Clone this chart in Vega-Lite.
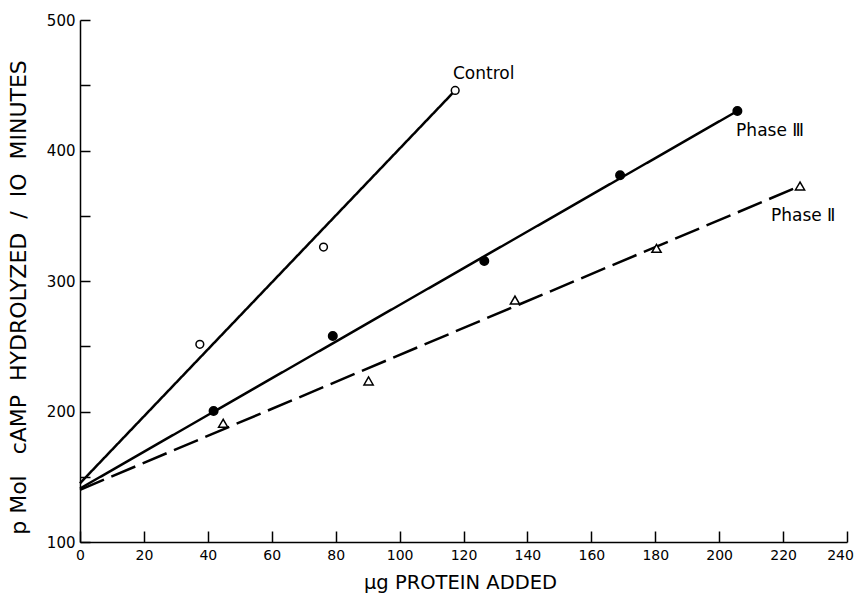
{
  "$schema": "https://vega.github.io/schema/vega-lite/v6.json",
  "autosize": "none",
  "width": 767,
  "height": 522,
  "padding": {"left": 80, "top": 20, "right": 8, "bottom": 51},
  "background": "white",
  "config": {
    "view": {"stroke": null},
    "axis": {
      "domainColor": "black",
      "domainWidth": 1.5,
      "tickColor": "black",
      "tickWidth": 1.5,
      "labelColor": "black",
      "titleColor": "black",
      "labelFont": "DejaVu Sans",
      "titleFont": "DejaVu Sans",
      "titleFontWeight": "normal",
      "grid": false,
      "labelFlush": false,
      "labelOverlap": false
    }
  },
  "datasets": {
    "points": [
      {"series": "Control", "x": 37.5, "y": 251.5},
      {"series": "Control", "x": 76.2, "y": 326},
      {"series": "Control", "x": 117.4, "y": 446},
      {"series": "Phase III", "x": 41.8, "y": 200.4},
      {"series": "Phase III", "x": 79.1, "y": 257.9},
      {"series": "Phase III", "x": 126.5, "y": 315.3},
      {"series": "Phase III", "x": 169, "y": 381},
      {"series": "Phase III", "x": 205.7, "y": 430.3},
      {"series": "Phase II", "x": 44.8, "y": 191},
      {"series": "Phase II", "x": 90.3, "y": 223.4},
      {"series": "Phase II", "x": 136.1, "y": 285.4},
      {"series": "Phase II", "x": 180.4, "y": 325},
      {"series": "Phase II", "x": 225.3, "y": 372.8}
    ],
    "lines": [
      {"series": "Control", "x": 0, "y": 145},
      {"series": "Control", "x": 117.4, "y": 446},
      {"series": "Phase III", "x": 0, "y": 141},
      {"series": "Phase III", "x": 205.7, "y": 430.3},
      {"series": "Phase II", "x": 0, "y": 140},
      {"series": "Phase II", "x": 225.3, "y": 372.8}
    ],
    "labels": [
      {"text": "Control", "x": 116.7, "y": 458.6},
      {"text": "Phase Ⅲ", "x": 205.3, "y": 415},
      {"text": "Phase Ⅱ", "x": 216.2, "y": 349.8}
    ]
  },
  "layer": [
    {
      "data": {"name": "lines"},
      "mark": {"type": "line", "color": "black", "strokeWidth": 2.5},
      "encoding": {
        "x": {
          "field": "x", "type": "quantitative",
          "scale": {"domain": [0, 240], "nice": false, "zero": false},
          "axis": {
            "values": [0, 20, 40, 60, 80, 100, 120, 140, 160, 180, 200, 220, 240],
            "tickSize": -11,
            "labelPadding": 17,
            "labelFontSize": 14,
            "labelOffset": {"condition": {"test": "datum.value === 240", "value": -7}, "value": 0},
            "title": "μg PROTEIN ADDED",
            "titleFontSize": 19.5,
            "titleX": 380,
            "titleY": 40,
            "titleBaseline": "middle",
            "titleAlign": "center"
          }
        },
        "y": {
          "field": "y", "type": "quantitative",
          "scale": {"domain": [100, 500], "nice": false, "zero": false},
          "axis": {
            "values": [100, 150, 200, 250, 300, 350, 400, 450, 500],
            "labelExpr": "datum.value % 100 === 0 ? datum.label : ''",
            "tickSize": -10,
            "labelPadding": 15,
            "labelFontSize": 15,
            "title": "p Mol\u00a0\u00a0\u00a0cAMP\u00a0\u00a0HYDROLYZED\u00a0\u00a0/\u00a0\u00a0IO\u00a0\u00a0MINUTES",
            "titleFontSize": 22,
            "titleAngle": -90,
            "titleX": -62,
            "titleY": 277,
            "titleBaseline": "middle",
            "titleAlign": "center"
          }
        },
        "detail": {"field": "series"},
        "strokeDash": {
          "field": "series", "type": "nominal",
          "scale": {"domain": ["Control", "Phase III", "Phase II"], "range": [[1, 0], [1, 0], [26, 8]]},
          "legend": null
        }
      }
    },
    {
      "data": {"name": "points"},
      "mark": {"type": "point", "stroke": "black", "strokeWidth": 1.5, "opacity": 1, "filled": false},
      "encoding": {
        "x": {"field": "x", "type": "quantitative"},
        "y": {"field": "y", "type": "quantitative"},
        "shape": {
          "field": "series", "type": "nominal",
          "scale": {"domain": ["Control", "Phase III", "Phase II"], "range": ["circle", "circle", "triangle-up"]},
          "legend": null
        },
        "fill": {
          "field": "series", "type": "nominal",
          "scale": {"domain": ["Control", "Phase III", "Phase II"], "range": ["white", "black", "white"]},
          "legend": null
        },
        "size": {
          "field": "series", "type": "nominal",
          "scale": {"domain": ["Control", "Phase III", "Phase II"], "range": [60, 85, 85]},
          "legend": null
        }
      }
    },
    {
      "data": {"name": "labels"},
      "mark": {"type": "text", "align": "left", "baseline": "middle", "font": "DejaVu Sans", "fontSize": 17, "color": "black"},
      "encoding": {
        "x": {"field": "x", "type": "quantitative"},
        "y": {"field": "y", "type": "quantitative"},
        "text": {"field": "text"}
      }
    }
  ]
}
